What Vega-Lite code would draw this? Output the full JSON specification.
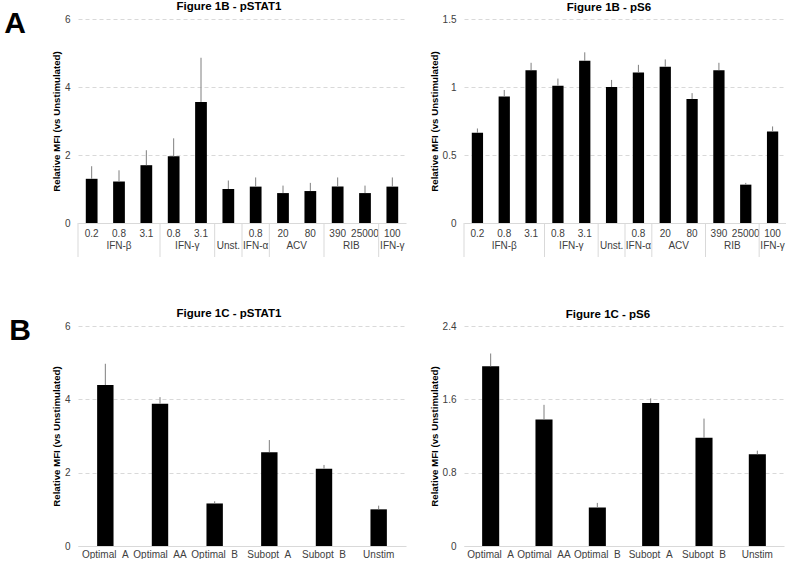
{
  "$schema": "https://vega.github.io/schema/vega-lite/v6.json",
  "padding": {"left": 3, "top": 0, "right": 0, "bottom": 0},
  "datasets": {
    "fig1b": [
      {"block": 1, "group": "IFN-β", "dose": "0.2", "cat": "IFN-β 0.2", "pSTAT1": 1.30, "pSTAT1_upper": 1.67, "pS6": 0.663, "pS6_upper": 0.695},
      {"block": 1, "group": "IFN-β", "dose": "0.8", "cat": "IFN-β 0.8", "pSTAT1": 1.22, "pSTAT1_upper": 1.55, "pS6": 0.930, "pS6_upper": 0.978},
      {"block": 1, "group": "IFN-β", "dose": "3.1", "cat": "IFN-β 3.1", "pSTAT1": 1.70, "pSTAT1_upper": 2.14, "pS6": 1.124, "pS6_upper": 1.178},
      {"block": 2, "group": "IFN-γ", "dose": "0.8", "cat": "IFN-γ 0.8", "pSTAT1": 1.96, "pSTAT1_upper": 2.49, "pS6": 1.010, "pS6_upper": 1.062},
      {"block": 2, "group": "IFN-γ", "dose": "3.1", "cat": "IFN-γ 3.1", "pSTAT1": 3.56, "pSTAT1_upper": 4.86, "pS6": 1.193, "pS6_upper": 1.255},
      {"block": 3, "group": "Unst.", "dose": "", "cat": "Unst.", "pSTAT1": 1.00, "pSTAT1_upper": 1.25, "pS6": 1.000, "pS6_upper": 1.052},
      {"block": 4, "group": "IFN-α", "dose": "0.8", "cat": "IFN-α 0.8", "pSTAT1": 1.07, "pSTAT1_upper": 1.34, "pS6": 1.106, "pS6_upper": 1.163},
      {"block": 5, "group": "ACV", "dose": "20", "cat": "ACV 20", "pSTAT1": 0.88, "pSTAT1_upper": 1.10, "pS6": 1.149, "pS6_upper": 1.203},
      {"block": 5, "group": "ACV", "dose": "80", "cat": "ACV 80", "pSTAT1": 0.94, "pSTAT1_upper": 1.18, "pS6": 0.911, "pS6_upper": 0.955},
      {"block": 6, "group": "RIB", "dose": "390", "cat": "RIB 390", "pSTAT1": 1.07, "pSTAT1_upper": 1.34, "pS6": 1.124, "pS6_upper": 1.178},
      {"block": 6, "group": "RIB", "dose": "25000", "cat": "RIB 25000", "pSTAT1": 0.88, "pSTAT1_upper": 1.10, "pS6": 0.282, "pS6_upper": 0.295},
      {"block": 7, "group": "IFN-γ", "dose": "100", "cat": "IFN-γ 100", "pSTAT1": 1.07, "pSTAT1_upper": 1.34, "pS6": 0.673, "pS6_upper": 0.710}
    ],
    "fig1c": [
      {"condition": "Optimal_A", "pSTAT1": 4.39, "pSTAT1_upper": 4.97, "pS6": 1.96, "pS6_upper": 2.10},
      {"condition": "Optimal_AA", "pSTAT1": 3.88, "pSTAT1_upper": 4.06, "pS6": 1.38, "pS6_upper": 1.54},
      {"condition": "Optimal_B", "pSTAT1": 1.16, "pSTAT1_upper": 1.22, "pS6": 0.42, "pS6_upper": 0.47},
      {"condition": "Subopt_A", "pSTAT1": 2.56, "pSTAT1_upper": 2.89, "pS6": 1.56, "pS6_upper": 1.61},
      {"condition": "Subopt_B", "pSTAT1": 2.11, "pSTAT1_upper": 2.21, "pS6": 1.18, "pS6_upper": 1.39},
      {"condition": "Unstim", "pSTAT1": 1.00, "pSTAT1_upper": 1.10, "pS6": 1.00, "pS6_upper": 1.04}
    ]
  },
  "columns": 2,
  "spacing": {"row": 103, "column": 58},
  "bounds": "flush",
  "concat": [
    {
      "width": 328, "height": 204,
      "title": {"text": "Figure 1B - pSTAT1", "dx": -13, "dy": 10},
      "data": {"name": "fig1b"},
      "resolve": {"scale": {"y": "independent"}, "axis": {"y": "independent"}},
      "layer": [
        {"mark": {"type": "bar", "color": "#000000", "width": {"band": 0.43}},
         "encoding": {
           "x": {"field": "cat", "type": "nominal", "sort": null, "scale": {"paddingInner": 0, "paddingOuter": 0}, "axis": {"labels": false, "title": null}},
           "y": {"field": "pSTAT1", "type": "quantitative", "scale": {"domain": [0, 6], "nice": false}, "axis": {"values": [0, 2, 4, 6], "format": "~g", "title": "Relative MFI (vs Unstimulated)"}}
         }},
        {"mark": {"type": "rule", "color": "#7f7f7f", "strokeWidth": 1},
         "encoding": {
           "x": {"field": "cat", "type": "nominal", "sort": null, "scale": {"paddingInner": 0, "paddingOuter": 0}, "axis": {"labels": false, "title": null}},
           "y": {"field": "pSTAT1", "type": "quantitative", "scale": {"domain": [0, 6], "nice": false}, "axis": null},
           "y2": {"field": "pSTAT1_upper"}
         }},
        {"mark": {"type": "text"},
         "encoding": {
           "x": {"field": "cat", "type": "nominal", "sort": null, "scale": {"paddingInner": 0, "paddingOuter": 0}, "axis": {"labels": false, "title": null}},
           "y": {"datum": "dose", "type": "ordinal", "scale": {"type": "point", "domain": ["axis", "dose", "group", "end"], "range": [204, 238], "padding": 0}, "axis": null},
           "text": {"field": "dose"}
         }},
        {"transform": [
           {"joinaggregate": [{"op": "count", "as": "n"}], "groupby": ["block"]},
           {"window": [{"op": "row_number", "as": "k"}], "groupby": ["block"]},
           {"filter": "datum.n % 2 == 1 && datum.k == (datum.n + 1) / 2"}
         ],
         "mark": {"type": "text"},
         "encoding": {
           "x": {"field": "cat", "type": "nominal", "sort": null, "bandPosition": 0.5, "scale": {"paddingInner": 0, "paddingOuter": 0}, "axis": {"labels": false, "title": null}},
           "y": {"datum": "group", "type": "ordinal", "scale": {"type": "point", "domain": ["axis", "dose", "group", "end"], "range": [204, 238], "padding": 0}, "axis": null},
           "text": {"field": "group"}
         }},
        {"transform": [
           {"joinaggregate": [{"op": "count", "as": "n"}], "groupby": ["block"]},
           {"window": [{"op": "row_number", "as": "k"}], "groupby": ["block"]},
           {"filter": "datum.n % 2 == 0 && datum.k == datum.n / 2"}
         ],
         "mark": {"type": "text"},
         "encoding": {
           "x": {"field": "cat", "type": "nominal", "sort": null, "bandPosition": 1, "scale": {"paddingInner": 0, "paddingOuter": 0}, "axis": {"labels": false, "title": null}},
           "y": {"datum": "group", "type": "ordinal", "scale": {"type": "point", "domain": ["axis", "dose", "group", "end"], "range": [204, 238], "padding": 0}, "axis": null},
           "text": {"field": "group"}
         }},
        {"transform": [
           {"window": [{"op": "row_number", "as": "k"}], "groupby": ["block"]},
           {"filter": "datum.k == 1"}
         ],
         "mark": {"type": "rule", "color": "#d9d9d9", "strokeWidth": 1},
         "encoding": {
           "x": {"field": "cat", "type": "nominal", "sort": null, "bandPosition": 0, "scale": {"paddingInner": 0, "paddingOuter": 0}, "axis": {"labels": false, "title": null}},
           "y": {"datum": "axis", "type": "ordinal", "scale": {"type": "point", "domain": ["axis", "dose", "group", "end"], "range": [204, 238], "padding": 0},
                 "axis": {"orient": "left", "labels": false, "ticks": false, "domain": false, "grid": false, "title": "A", "titleAngle": 0, "titleX": -63.5, "titleY": 13, "titleAlign": "center", "titleBaseline": "alphabetic", "titleFontSize": 30, "titleFontWeight": "bold", "titleColor": "#000000"}},
           "y2": {"datum": "end"}
         }}
      ]
    },
    {
      "width": 322, "height": 204,
      "title": {"text": "Figure 1B - pS6", "dx": -16, "dy": 5},
      "data": {"name": "fig1b"},
      "resolve": {"scale": {"y": "independent"}, "axis": {"y": "independent"}},
      "layer": [
        {"mark": {"type": "bar", "color": "#000000", "width": {"band": 0.42}},
         "encoding": {
           "x": {"field": "cat", "type": "nominal", "sort": null, "scale": {"paddingInner": 0, "paddingOuter": 0}, "axis": {"labels": false, "title": null}},
           "y": {"field": "pS6", "type": "quantitative", "scale": {"domain": [0, 1.5], "nice": false}, "axis": {"values": [0, 0.5, 1, 1.5], "format": "~g", "title": "Relative MFI (vs Unstimulated)"}}
         }},
        {"mark": {"type": "rule", "color": "#7f7f7f", "strokeWidth": 1},
         "encoding": {
           "x": {"field": "cat", "type": "nominal", "sort": null, "scale": {"paddingInner": 0, "paddingOuter": 0}, "axis": {"labels": false, "title": null}},
           "y": {"field": "pS6", "type": "quantitative", "scale": {"domain": [0, 1.5], "nice": false}, "axis": null},
           "y2": {"field": "pS6_upper"}
         }},
        {"mark": {"type": "text"},
         "encoding": {
           "x": {"field": "cat", "type": "nominal", "sort": null, "scale": {"paddingInner": 0, "paddingOuter": 0}, "axis": {"labels": false, "title": null}},
           "y": {"datum": "dose", "type": "ordinal", "scale": {"type": "point", "domain": ["axis", "dose", "group", "end"], "range": [204, 238], "padding": 0}, "axis": null},
           "text": {"field": "dose"}
         }},
        {"transform": [
           {"joinaggregate": [{"op": "count", "as": "n"}], "groupby": ["block"]},
           {"window": [{"op": "row_number", "as": "k"}], "groupby": ["block"]},
           {"filter": "datum.n % 2 == 1 && datum.k == (datum.n + 1) / 2"}
         ],
         "mark": {"type": "text"},
         "encoding": {
           "x": {"field": "cat", "type": "nominal", "sort": null, "bandPosition": 0.5, "scale": {"paddingInner": 0, "paddingOuter": 0}, "axis": {"labels": false, "title": null}},
           "y": {"datum": "group", "type": "ordinal", "scale": {"type": "point", "domain": ["axis", "dose", "group", "end"], "range": [204, 238], "padding": 0}, "axis": null},
           "text": {"field": "group"}
         }},
        {"transform": [
           {"joinaggregate": [{"op": "count", "as": "n"}], "groupby": ["block"]},
           {"window": [{"op": "row_number", "as": "k"}], "groupby": ["block"]},
           {"filter": "datum.n % 2 == 0 && datum.k == datum.n / 2"}
         ],
         "mark": {"type": "text"},
         "encoding": {
           "x": {"field": "cat", "type": "nominal", "sort": null, "bandPosition": 1, "scale": {"paddingInner": 0, "paddingOuter": 0}, "axis": {"labels": false, "title": null}},
           "y": {"datum": "group", "type": "ordinal", "scale": {"type": "point", "domain": ["axis", "dose", "group", "end"], "range": [204, 238], "padding": 0}, "axis": null},
           "text": {"field": "group"}
         }},
        {"transform": [
           {"window": [{"op": "row_number", "as": "k"}], "groupby": ["block"]},
           {"filter": "datum.k == 1"}
         ],
         "mark": {"type": "rule", "color": "#d9d9d9", "strokeWidth": 1},
         "encoding": {
           "x": {"field": "cat", "type": "nominal", "sort": null, "bandPosition": 0, "scale": {"paddingInner": 0, "paddingOuter": 0}, "axis": {"labels": false, "title": null}},
           "y": {"datum": "axis", "type": "ordinal", "scale": {"type": "point", "domain": ["axis", "dose", "group", "end"], "range": [204, 238], "padding": 0}, "axis": null},
           "y2": {"datum": "end"}
         }}
      ]
    },
    {
      "width": 328, "height": 220,
      "title": {"text": "Figure 1C - pSTAT1", "dx": -13, "dy": 10},
      "data": {"name": "fig1c"},
      "resolve": {"scale": {"y": "independent"}, "axis": {"y": "independent"}},
      "layer": [
        {"mark": {"type": "bar", "color": "#000000", "width": {"band": 0.3}},
         "encoding": {
           "x": {"field": "condition", "type": "nominal", "sort": null, "scale": {"paddingInner": 0, "paddingOuter": 0}, "axis": {"title": null}},
           "y": {"field": "pSTAT1", "type": "quantitative", "scale": {"domain": [0, 6], "nice": false}, "axis": {"values": [0, 2, 4, 6], "format": "~g", "title": "Relative MFI (vs Unstimulated)"}}
         }},
        {"mark": {"type": "rule", "color": "#7f7f7f", "strokeWidth": 1},
         "encoding": {
           "x": {"field": "condition", "type": "nominal", "sort": null, "scale": {"paddingInner": 0, "paddingOuter": 0}, "axis": {"title": null}},
           "y": {"field": "pSTAT1", "type": "quantitative", "scale": {"domain": [0, 6], "nice": false},
                 "axis": {"orient": "left", "labels": false, "ticks": false, "domain": false, "grid": false, "title": "B", "titleAngle": 0, "titleX": -58.5, "titleY": 13, "titleAlign": "center", "titleBaseline": "alphabetic", "titleFontSize": 30, "titleFontWeight": "bold", "titleColor": "#000000"}},
           "y2": {"field": "pSTAT1_upper"}
         }}
      ]
    },
    {
      "width": 320, "height": 220,
      "title": {"text": "Figure 1C - pS6", "dx": -16, "dy": 5},
      "data": {"name": "fig1c"},
      "layer": [
        {"mark": {"type": "bar", "color": "#000000", "width": {"band": 0.32}},
         "encoding": {
           "x": {"field": "condition", "type": "nominal", "sort": null, "scale": {"paddingInner": 0, "paddingOuter": 0}, "axis": {"title": null}},
           "y": {"field": "pS6", "type": "quantitative", "scale": {"domain": [0, 2.4], "nice": false}, "axis": {"values": [0, 0.8, 1.6, 2.4], "format": "~g", "title": "Relative MFI (vs Unstimulated)"}}
         }},
        {"mark": {"type": "rule", "color": "#7f7f7f", "strokeWidth": 1},
         "encoding": {
           "x": {"field": "condition", "type": "nominal", "sort": null, "scale": {"paddingInner": 0, "paddingOuter": 0}, "axis": {"title": null}},
           "y": {"field": "pS6", "type": "quantitative", "scale": {"domain": [0, 2.4], "nice": false}},
           "y2": {"field": "pS6_upper"}
         }}
      ]
    }
  ],
  "config": {
    "font": "Liberation Sans",
    "view": {"stroke": null},
    "axis": {"labelFont": "Liberation Sans", "labelFontSize": 10, "labelColor": "#404040", "titleFont": "Liberation Sans", "titleFontSize": 9.7, "titleFontWeight": "bold", "titleColor": "#000000", "ticks": false, "domainColor": "#d9d9d9", "gridColor": "#d9d9d9", "gridDash": [4, 3]},
    "axisY": {"domain": false, "labelPadding": 8, "titlePadding": 3, "grid": true},
    "axisX": {"grid": false, "labelAngle": 0, "labelPadding": 3},
    "title": {"font": "Liberation Sans", "fontSize": 11.5, "fontWeight": "bold", "color": "#000000", "frame": "group", "anchor": "middle", "offset": 6},
    "text": {"font": "Liberation Sans", "fontSize": 10, "color": "#404040", "baseline": "middle", "align": "center"}
  }
}
